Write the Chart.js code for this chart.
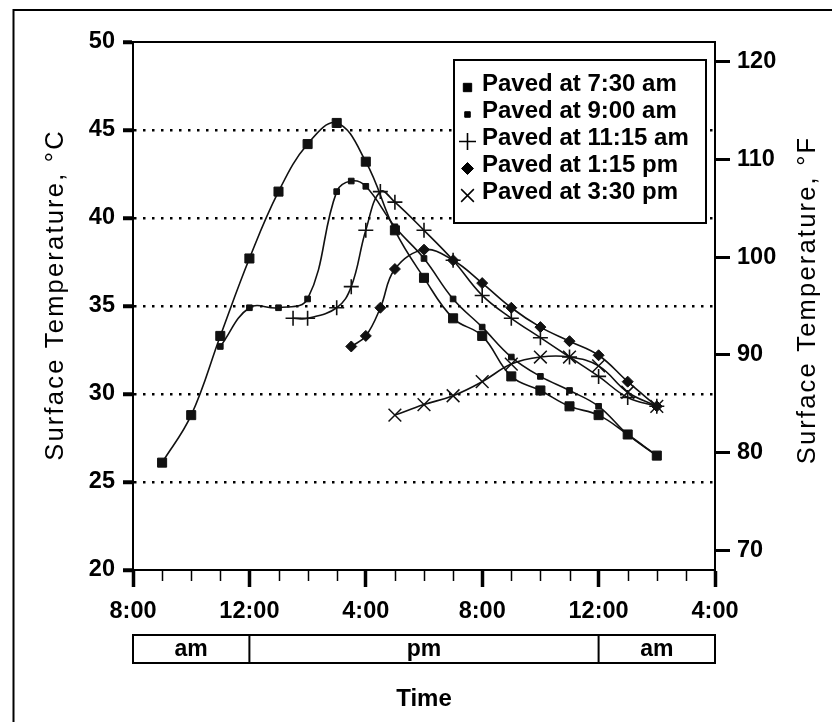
<!DOCTYPE html>
<html>
<head>
<meta charset="utf-8">
<script src="https://cdn.jsdelivr.net/npm/chart.js@4.4.1/dist/chart.umd.min.js"></script>
<style>
  html, body { margin: 0; padding: 0; background: #fff; }
  canvas { display: block; }
</style>
</head>
<body>
<canvas id="chart" width="832" height="722"></canvas>
<script>
// x values are hours after 8:00 am
const xTickLabels = ["8:00", "12:00", "4:00", "8:00", "12:00", "4:00"];
const fTickValues = [70, 80, 90, 100, 110, 120];
const periodBreaks = [0, 4, 16, 20];
const periodLabels = ["am", "pm", "am"];

const seriesLabels = ["Paved at 7:30 am", "Paved at 9:00 am", "Paved at 11:15 am", "Paved at 1:15 pm", "Paved at 3:30 pm"];

const hours730 = [1, 2, 3, 4, 5, 6, 7, 8, 9, 10, 11, 12, 13, 14, 15, 16, 17, 18];
const temps730 = [26.1, 28.8, 33.3, 37.7, 41.5, 44.2, 45.4, 43.2, 39.3, 36.6, 34.3, 33.3, 31.0, 30.2, 29.3, 28.8, 27.7, 26.5];

const hours900 = [3, 4, 5, 6, 7, 7.5, 8, 9, 10, 11, 12, 13, 14, 15, 16, 17, 18];
const temps900 = [32.7, 34.9, 34.9, 35.4, 41.5, 42.1, 41.8, 39.5, 37.7, 35.4, 33.8, 32.1, 31.0, 30.2, 29.3, 27.7, 26.5];

const hours1115 = [5.5, 6, 7, 7.5, 8, 8.5, 9, 10, 11, 12, 13, 14, 15, 16, 17, 18];
const temps1115 = [34.3, 34.3, 34.9, 36.1, 39.3, 41.5, 40.9, 39.3, 37.6, 35.6, 34.3, 33.2, 32.1, 31.0, 29.8, 29.3];

const hours115 = [7.5, 8, 8.5, 9, 10, 11, 12, 13, 14, 15, 16, 17, 18];
const temps115 = [32.7, 33.3, 34.9, 37.1, 38.2, 37.6, 36.3, 34.9, 33.8, 33.0, 32.2, 30.7, 29.3];

const hours330 = [9, 10, 11, 12, 13, 14, 15, 16, 17, 18];
const temps330 = [28.8, 29.4, 29.9, 30.7, 31.7, 32.1, 32.1, 31.6, 30.1, 29.3];

const cMin = 20, cMax = 50;
const toF = c => c * 9 / 5 + 32;

const FONT = '"Liberation Sans", Arial, Helvetica, sans-serif';
const INK = "#111";

function pts(xs, ys) {
  return xs.map((h, i) => ({ x: h, y: ys[i] }));
}

function series(i, xs, ys, style, radius, bw, legendRadius) {
  return {
    label: seriesLabels[i],
    data: pts(xs, ys),
    borderColor: INK,
    borderWidth: 1.6,
    tension: 0.4,
    pointStyle: style,
    pointRadius: radius,
    pointBorderWidth: bw,
    pointBackgroundColor: INK,
    pointBorderColor: INK,
    legendRadius: legendRadius
  };
}

// own legend, outer frame, am/pm strip and side titles
const paperPlugin = {
  id: "paper",
  afterDraw(chart) {
    const { ctx, chartArea: a, scales } = chart;
    const x = scales.x;
    ctx.save();
    ctx.strokeStyle = "#000";
    ctx.fillStyle = "#000";

    ctx.lineWidth = 2;
    ctx.strokeRect(13.5, 10, 1000, 1000);

    ctx.beginPath();
    ctx.moveTo(a.left - 1, a.top);
    ctx.lineTo(a.right + 1, a.top);
    ctx.stroke();

    // minor hour ticks
    ctx.lineWidth = 1.5;
    ctx.beginPath();
    for (let h = 1; h < 20; h++) {
      if (h % 4 === 0) continue;
      const px = Math.round(x.getPixelForValue(h)) + 0.5;
      ctx.moveTo(px, a.bottom);
      ctx.lineTo(px, a.bottom + 11);
    }
    ctx.stroke();

    // am / pm strip
    const top = a.bottom + 65, h = 28;
    const x0 = x.getPixelForValue(periodBreaks[0]);
    const x1 = x.getPixelForValue(periodBreaks[periodBreaks.length - 1]);
    ctx.lineWidth = 2;
    ctx.strokeRect(x0, top, x1 - x0, h);
    ctx.beginPath();
    for (let i = 1; i < periodBreaks.length - 1; i++) {
      const px = x.getPixelForValue(periodBreaks[i]);
      ctx.moveTo(px, top);
      ctx.lineTo(px, top + h);
    }
    ctx.stroke();
    ctx.font = "bold 23px " + FONT;
    ctx.textAlign = "center";
    ctx.textBaseline = "middle";
    periodLabels.forEach((lab, i) => {
      const cx = (x.getPixelForValue(periodBreaks[i]) + x.getPixelForValue(periodBreaks[i + 1])) / 2;
      ctx.fillText(lab, cx, top + h / 2 + 1);
    });

    // side titles, both read bottom to top
    ctx.font = "25.5px " + FONT;
    ctx.textAlign = "center";
    ctx.textBaseline = "alphabetic";
    ctx.letterSpacing = "2.2px";
    [["Surface Temperature, \u00B0C", 62.5, 295], ["Surface Temperature, \u00B0F", 815, 300]].forEach(([t, bx, cy]) => {
      ctx.save();
      ctx.translate(bx, cy);
      ctx.rotate(-Math.PI / 2);
      ctx.fillText(t, 0, 0);
      ctx.restore();
    });
    ctx.letterSpacing = "0px";

    // legend box
    const lx = 454, ly = 60, lw = 252, lh = 163;
    ctx.fillStyle = "#fff";
    ctx.fillRect(lx, ly, lw, lh);
    ctx.lineWidth = 2;
    ctx.strokeRect(lx, ly, lw, lh);
    ctx.font = "bold 24px " + FONT;
    ctx.textAlign = "left";
    ctx.textBaseline = "middle";
    chart.data.datasets.forEach((ds, i) => {
      const rowY = ly + 23.5 + i * 27;
      ctx.fillStyle = "#000";
      ctx.strokeStyle = "#000";
      ctx.lineWidth = ds.pointBorderWidth;
      Chart.helpers.drawPoint(ctx, {
        pointStyle: ds.pointStyle,
        radius: ds.legendRadius,
        rotation: 0,
        borderWidth: ds.pointBorderWidth
      }, lx + 13.5, rowY + 4);
      ctx.fillStyle = "#000";
      ctx.fillText(ds.label, lx + 28, rowY + 1);
    });

    ctx.restore();
  }
};

const tickFont = { family: FONT, size: 23.5, weight: "bold" };

new Chart(document.getElementById("chart"), {
  type: "line",
  data: {
    datasets: [
      series(0, hours730, temps730, "rect", 6.4, 1, 5.9),
      series(1, hours900, temps900, "rect", 4, 1, 3.9),
      series(2, hours1115, temps1115, "cross", 7.5, 1.6, 8.5),
      series(3, hours115, temps115, "rectRot", 5.5, 1, 6),
      series(4, hours330, temps330, "crossRot", 9, 1.5, 9)
    ]
  },
  options: {
    responsive: false,
    animation: false,
    events: [],
    layout: { padding: { top: 42, left: 0, right: 0, bottom: 0 } },
    plugins: {
      legend: { display: false },
      tooltip: { enabled: false }
    },
    scales: {
      x: {
        type: "linear",
        min: 0,
        max: 20,
        afterFit(s) { s.height = 152; },
        ticks: {
          stepSize: 1,
          autoSkip: false,
          maxRotation: 0,
          padding: 10,
          color: "#000",
          font: tickFont,
          callback: v => (v % 4 === 0 ? xTickLabels[v / 4] : "")
        },
        grid: {
          drawOnChartArea: false,
          tickLength: 17,
          tickWidth: c => (c.tick && c.tick.value % 4 === 0 ? 3.5 : 0),
          tickColor: "#000"
        },
        border: { color: "#000", width: 2 },
        title: {
          display: true,
          text: "Time",
          color: "#000",
          font: { family: FONT, size: 24, weight: "bold" },
          padding: { top: 0, bottom: 8 }
        }
      },
      y: {
        position: "left",
        min: cMin,
        max: cMax,
        afterFit(s) { s.width = 133; },
        ticks: { stepSize: 5, padding: 8, color: "#000", font: tickFont },
        grid: {
          color: c => (c.tick && (c.tick.value === cMin || c.tick.value === cMax) ? "rgba(0,0,0,0)" : "#000"),
          lineWidth: 2.5,
          tickLength: 10,
          tickWidth: 4,
          tickColor: "#000"
        },
        border: { color: "#000", width: 2, dash: [2.5, 6.5] }
      },
      y2: {
        position: "right",
        min: toF(cMin),
        max: toF(cMax),
        afterFit(s) { s.width = 117; },
        afterBuildTicks(s) { s.ticks = fTickValues.map(v => ({ value: v })); },
        ticks: { padding: 7, color: "#000", font: tickFont },
        grid: {
          drawOnChartArea: false,
          tickLength: 15,
          tickWidth: 3,
          tickColor: "#000"
        },
        border: { color: "#000", width: 2 }
      }
    }
  },
  plugins: [paperPlugin]
});
</script>
</body>
</html>
